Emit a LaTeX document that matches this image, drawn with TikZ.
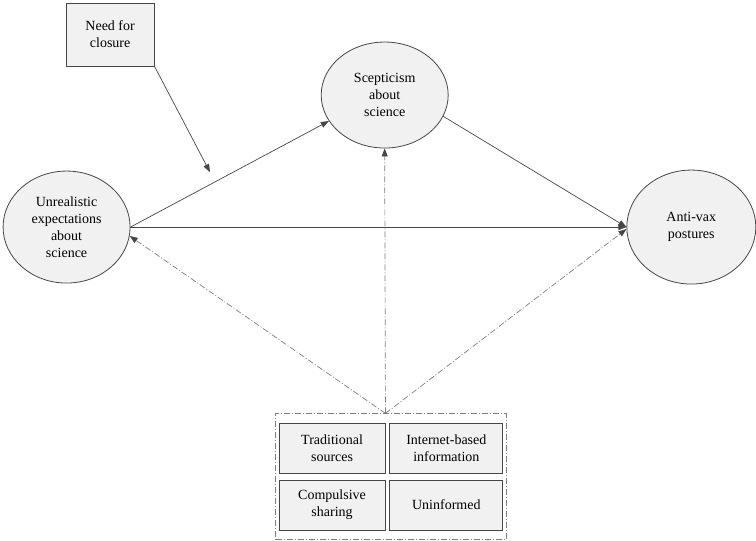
\documentclass[tikz,border=0pt]{standalone}
\usepackage{fontspec}
\setmainfont{Liberation Serif}
\usepackage{xcolor}
\usepackage{tikz}
\usetikzlibrary{shapes,arrows.meta,positioning,fit}
\definecolor{nodefill}{RGB}{241,241,241}
\definecolor{lineclr}{RGB}{70,70,70}
\definecolor{dashclr}{RGB}{125,125,125}
\newcommand{\txt}{\fontsize{14}{17}\selectfont}

\begin{document}
\begin{tikzpicture}[
    node distance=0.4cm,
    construct/.style={ellipse, draw=lineclr, fill=nodefill, line width=0.8pt, inner sep=0pt, minimum width=127pt, minimum height=112pt, align=center, font=\txt},
    box/.style={rectangle, draw=lineclr, fill=nodefill, line width=0.8pt, minimum width=106pt, minimum height=50pt, align=center, font=\txt},
    arrow/.style={-{Triangle[length=8pt,width=6pt,color=lineclr]}, draw=lineclr, line width=0.7pt},
    dash_arrow/.style={arrow, draw=dashclr, dash pattern=on 6pt off 2pt on 1pt off 2pt},
]
\useasboundingbox (0,0) rectangle (26.57,-18.98);

% === CONSTRUCTS ===
\node[construct] (unreal) at (2.34,-7.98) {Unrealistic\\expectations\\about\\science};
\node[construct, right=17.43cm of unreal, minimum width=129pt, minimum height=114pt] (antivax) {Anti-vax\\postures};
\node[construct, minimum height=106pt] (scep) at (13.52,-3.34) {Scepticism\\about\\science};

% === MODERATOR ===
\node[box, minimum width=88pt, minimum height=63pt] (closure) at (3.87,-1.21) {Need for\\closure};
\coordinate (mod) at (7.38,-6.05);

% === INFORMATION SOURCES ===
\node[box] (tl) at (11.67,-15.75) {Traditional\\sources};
\node[box, right=4pt of tl, minimum width=113pt] (tr) {Internet-based\\information};
\node[box, below=6pt of tl] (bl) {Compulsive\\sharing};
\node[box, below=6pt of tr, minimum width=113pt] (br) {Uninformed};
\node[draw=dashclr, dash pattern=on 6pt off 2pt on 1pt off 2pt, line width=0.7pt, fit=(tl) (br), inner xsep=3pt, inner ysep=9pt] (grp) {};
\coordinate (apex) at (tl.north east |- grp.north);

% === ARROWS ===
\draw[arrow] (unreal.east) -- (scep.205);
\draw[arrow] (scep.-20) -- (antivax.west);
\draw[arrow] (unreal.east) -- (antivax.west);
\draw[arrow] (closure.south east) -- (mod);
\draw[dash_arrow] (apex) -- (unreal.-8);
\draw[dash_arrow] (apex) -- (scep.south);
\draw[dash_arrow] (apex) -- ([yshift=-2pt]antivax.west);

\end{tikzpicture}
\end{document}
